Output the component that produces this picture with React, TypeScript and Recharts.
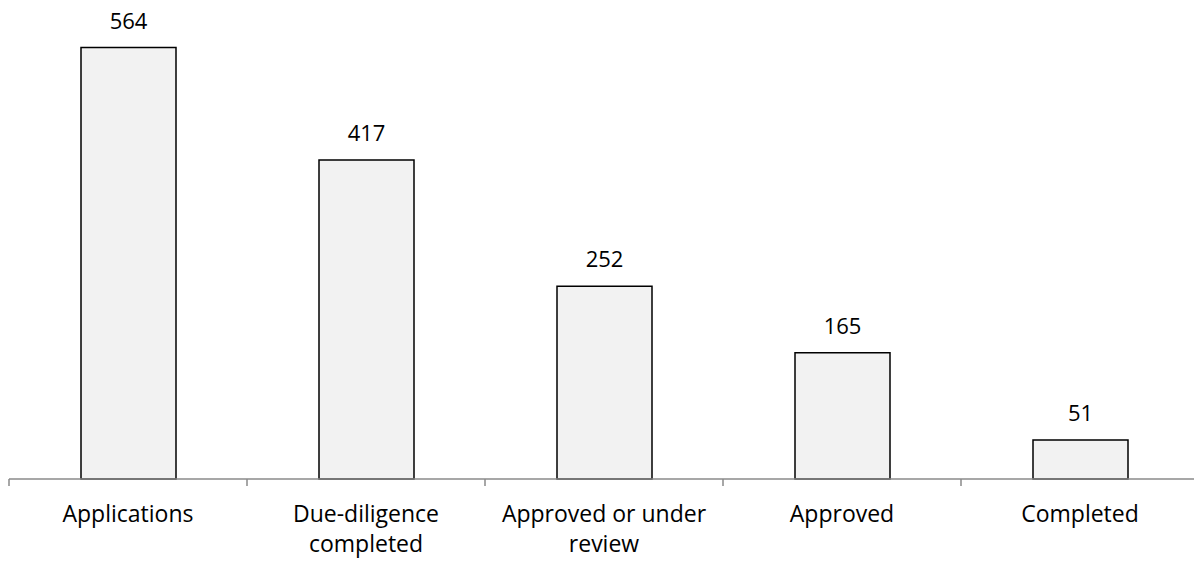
import { BarChart, Bar, XAxis, YAxis, LabelList } from 'recharts'

const stages = ['Applications', 'Due-diligence completed', 'Approved or under review', 'Approved', 'Completed']
const stageLines = [['Applications'], ['Due-diligence', 'completed'], ['Approved or under', 'review'], ['Approved'], ['Completed']]
const counts = [564, 417, 252, 165, 51]

const data = stages.map((stage, i) => ({ stage, count: counts[i] }))

const FONT = '"Open Sans", sans-serif'
const AXIS_GREY = '#8a8a8a'

function StageTick(props: any) {
  const { x, y, payload, index } = props
  const half = payload?.offset ?? 119
  const isLast = index === stages.length - 1
  const lines = stageLines[stages.indexOf(payload.value)] ?? [payload.value]
  return (
    <g>
      <line x1={x - half} y1={y} x2={x - half} y2={y + 7} stroke={AXIS_GREY} strokeWidth={1.5} />
      {isLast && <line x1={x + half} y1={y} x2={x + half} y2={y + 7} stroke={AXIS_GREY} strokeWidth={1.5} />}
      <text x={x} y={y + 42.5} textAnchor="middle" fontFamily={FONT} fontSize={23} fill="#000">
        {lines.map((line: string, i: number) => (
          <tspan key={i} x={x} dy={i === 0 ? 0 : 30.5}>
            {line}
          </tspan>
        ))}
      </text>
    </g>
  )
}

export default function App() {
  return (
    <div style={{ position: 'absolute', left: 0, top: 0, width: 1194, height: 563, overflow: 'hidden', background: '#fff' }}>
      <BarChart width={1199} height={563} data={data} margin={{ top: 20, right: 0, left: 9, bottom: 0 }}>
        <XAxis
          dataKey="stage"
          height={84}
          interval={0}
          tickLine={false}
          tickSize={0}
          tickMargin={0}
          axisLine={{ stroke: AXIS_GREY, strokeWidth: 1.5 }}
          tick={<StageTick />}
        />
        <YAxis hide domain={[0, 600]} />
        <Bar dataKey="count" barSize={95} fill="#f2f2f2" stroke="#000" strokeWidth={1.5} isAnimationActive={false}>
          <LabelList dataKey="count" position="top" offset={19} fill="#000" fontSize={22} fontFamily={FONT} />
        </Bar>
      </BarChart>
    </div>
  )
}
